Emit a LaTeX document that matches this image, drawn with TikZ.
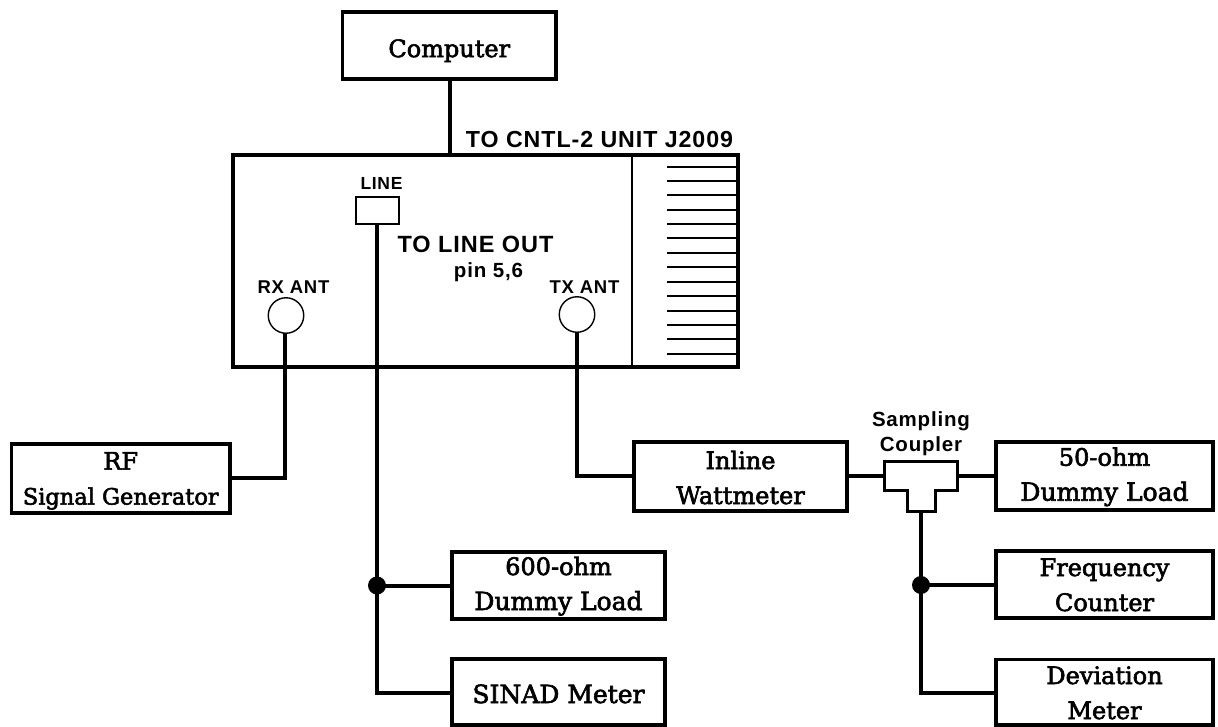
\documentclass[tikz,border=0pt]{standalone}
\usepackage{fontspec}
\setmainfont{DejaVu Serif}[FakeBold=2.5]
\newfontfamily\lab{Liberation Sans}[LetterSpace=4]
\usetikzlibrary{fit}
\tikzset{
  x=1pt,y=-1pt,
  boxn/.style={draw=black,line width=3.8pt,outer sep=0pt,align=center,inner sep=0pt,text=black,font=\fontsize{24}{35}\selectfont},
  wire/.style={draw=black,line width=4pt},
  thinw/.style={draw=black,line width=1.5pt},
  lbl/.style={inner sep=0pt,text=black,align=center},
  dotn/.style={circle,fill=black,inner sep=0pt,minimum size=18pt},
  port/.style={circle,draw=black,line width=1.4pt,fill=white,inner sep=0pt,outer sep=0pt,minimum size=35.5pt}
}
% box: name, north-west corner, south-east corner, text
\newcommand{\bx}[4]{\path (#2) coordinate (#1nw) (#3) coordinate (#1se);
  \node[boxn,fit=(#1nw)(#1se)] (#1) {#4};}
% text whose last baseline lies a given distance below the box centre
\newcommand{\twoln}[3]{\raisebox{-#3pt}[0pt][0pt]{\begin{tabular}[b]{@{}c@{}}#1\\#2\end{tabular}}}
\newcommand{\oneln}[2]{\raisebox{-#2pt}[0pt][0pt]{#1}}
\begin{document}
\begin{tikzpicture}
\useasboundingbox (0,0) rectangle (1218,726);
% main box
\node[draw=black,line width=3.6pt,outer sep=0pt,fit={(233,155)(738,367)},inner sep=0pt] (main) {};
\coordinate (divT) at (632,155); \coordinate (divB) at (632,367);
\draw[thinw] (divT) -- (divB);
\foreach \yy in {167,181,195,210,224,238,253,267,282,296,311,325,339,354}
  \draw[thinw,line width=1.3pt] (667,\yy) -- (737,\yy);
% boxes
\bx{comp}{342.5,12}{556,79}{\oneln{Computer}{11.6}}
\bx{rf}{11.5,444}{230,512.7}{\twoln{RF}{\fontsize{22.5}{35}\selectfont Signal Generator}{26.2}}
\bx{watt}{634,442}{847,511}{\twoln{Inline}{Wattmeter}{27.5}}
\bx{fifty}{996,442}{1213,510}{\twoln{50-ohm}{\fontsize{25}{35}\selectfont Dummy Load}{24.7}}
\bx{freq}{996,551}{1213,618}{\twoln{Frequency}{Counter}{26.5}}
\bx{dev}{996,659.5}{1213,725}{\twoln{Deviation}{Meter}{26.75}}
\bx{six}{452,552}{665,619}{\twoln{600-ohm}{\fontsize{25}{35}\selectfont Dummy Load}{24.5}}
\bx{sinad}{452,659}{665,725}{\oneln{\fontsize{25}{35}\selectfont SINAD Meter}{11}}
% ports
\node[draw=black,line width=1.4pt,outer sep=0pt,minimum width=43pt,minimum height=27pt,anchor=north west,inner sep=0pt] (line) at (356,197) {};
\node[port] (rx) at (286,315.5) {};
\node[port] (tx) at (577,314.5) {};
% coupler
\draw[draw=black,line width=3pt] (884,461) -- (957,461) -- (957,490) -- (935,490) -- (935,511.5) -- (907,511.5) -- (907,490) -- (884,490) -- cycle;
\coordinate (cL) at (884,476); \coordinate (cR) at (957,476); \coordinate (cB) at (921,511.5);
\coordinate (j1) at (377,585.5); \coordinate (j2) at (921,585);
\coordinate (j1b) at (377,693); \coordinate (j2b) at (921,693);
\coordinate (rxk) at (285,477.5); \coordinate (txk) at (577,476);
\coordinate (compb) at (450,79); \coordinate (maint) at (450,155);
% wires
\draw[wire] (compb) -- (maint);
\draw[wire] (rx.south -| rxk) -- (rxk) -- (rf.east |- rxk);
\draw[wire] (tx.south) -- (txk) -- (watt.west |- txk);
\draw[wire] (line.south -| j1) -- (j1b) -- (sinad.west |- j1b);
\draw[wire] (j1) -- (six.west |- j1);
\draw[wire] (watt.east |- cL) -- (cL);
\draw[wire] (cR) -- (fifty.west |- cR);
\draw[wire] (cB) -- (j2b) -- (dev.west |- j2b);
\draw[wire] (j2) -- (freq.west |- j2);
\node[dotn] (d1) at (j1) {};
\node[dotn] (d2) at (j2) {};
% labels
\begin{scope}[every node/.append style={lbl}]
\node[font=\lab\fontsize{23.2}{24}\selectfont\bfseries,anchor=base] (t1) at (599.5,147) {TO CNTL-2 UNIT J2009};
\node[font=\lab\fontsize{17.5}{19}\selectfont\bfseries,anchor=base] (t2) at (381.5,189) {LINE};
\node[font=\lab\fontsize{23.5}{24}\selectfont\bfseries,anchor=base] (t3) at (475.5,252.7) {TO LINE OUT};
\node[font=\lab\fontsize{20.5}{22}\selectfont\bfseries,anchor=base] (t4) at (488.5,277) {pin 5,6};
\node[font=\lab\fontsize{18.5}{20}\selectfont\bfseries,anchor=base] (t5) at (293.5,293) {RX ANT};
\node[font=\lab\fontsize{18.5}{20}\selectfont\bfseries,anchor=base] (t6) at (584.5,293) {TX ANT};
\node[font=\lab\fontsize{20.5}{25}\selectfont\bfseries,anchor=base] (t7) at (921,426.7) {Sampling};
\node[font=\lab\fontsize{20.5}{25}\selectfont\bfseries,anchor=base] (t8) at (921,451.7) {Coupler};
\end{scope}
\end{tikzpicture}
\end{document}
